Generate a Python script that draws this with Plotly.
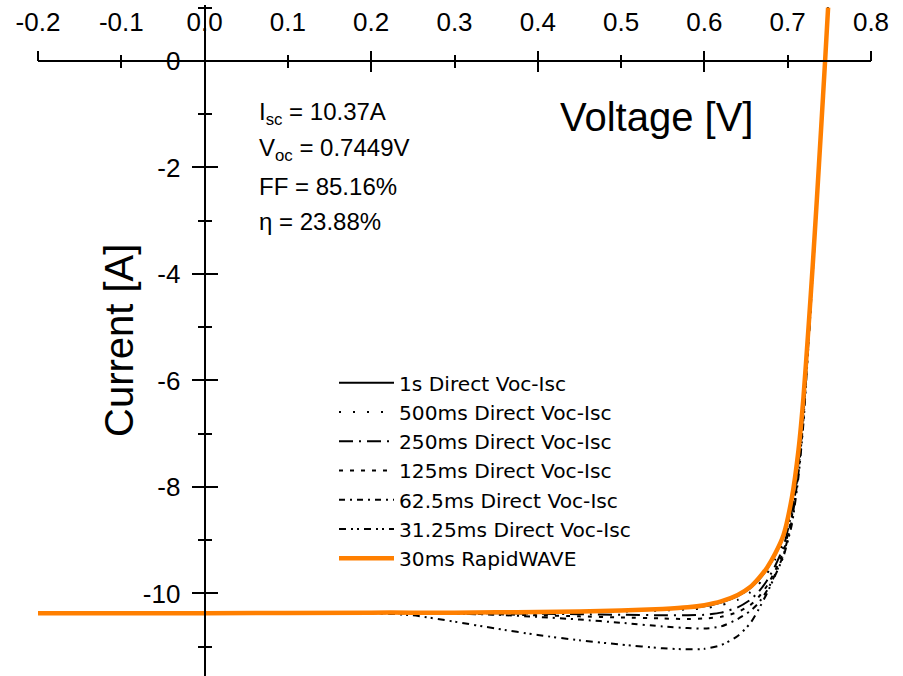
import plotly.graph_objects as go

# ---------------- data ----------------
V = [-0.2, 0.0, 0.2, 0.25, 0.3, 0.35, 0.4, 0.45, 0.5, 0.55, 0.58, 0.6, 0.62, 0.64,
     0.655, 0.665, 0.675, 0.685, 0.695, 0.705, 0.713, 0.719, 0.725, 0.73, 0.735,
     0.74, 0.7449, 0.7485]

I_1s = [-10.37, -10.37, -10.36, -10.36, -10.36, -10.36, -10.35, -10.34, -10.33, -10.30,
        -10.27, -10.24, -10.17, -10.05, -9.90, -9.75, -9.55, -9.28, -8.93, -8.25, -7.35,
        -6.35, -5.02, -3.86, -2.61, -1.31, 0.00, 1.00]
I_500ms = [-10.37, -10.37, -10.36, -10.36, -10.36, -10.36, -10.36, -10.35, -10.34, -10.32,
           -10.30, -10.28, -10.22, -10.12, -9.98, -9.83, -9.63, -9.36, -9.02, -8.35, -7.45,
           -6.45, -5.08, -3.90, -2.63, -1.32, 0.00, 1.00]
I_250ms = [-10.37, -10.37, -10.36, -10.36, -10.37, -10.37, -10.38, -10.39, -10.40, -10.41,
           -10.41, -10.40, -10.36, -10.26, -10.12, -9.97, -9.76, -9.48, -9.12, -8.45, -7.55,
           -6.55, -5.15, -3.95, -2.66, -1.33, 0.00, 1.00]
I_125ms = [-10.37, -10.37, -10.37, -10.37, -10.38, -10.39, -10.41, -10.43, -10.45, -10.47,
           -10.48, -10.47, -10.44, -10.35, -10.22, -10.07, -9.86, -9.57, -9.20, -8.55, -7.65,
           -6.62, -5.20, -3.98, -2.68, -1.34, 0.00, 1.00]
I_62_5ms = [-10.37, -10.37, -10.37, -10.37, -10.38, -10.40, -10.44, -10.49, -10.55, -10.62,
            -10.65, -10.66, -10.62, -10.48, -10.33, -10.18, -9.95, -9.64, -9.27, -8.62, -7.72,
            -6.70, -5.25, -4.00, -2.70, -1.35, 0.00, 1.00]
I_31_25ms = [-10.37, -10.37, -10.37, -10.41, -10.53, -10.66, -10.78, -10.88, -10.96, -11.03,
             -11.05, -11.04, -10.97, -10.80, -10.56, -10.30, -10.00, -9.66, -9.30, -8.70, -7.80,
             -6.78, -5.30, -4.03, -2.72, -1.36, 0.00, 1.00]
I_rapidwave = [-10.37, -10.37, -10.36, -10.36, -10.36, -10.355, -10.35, -10.34, -10.32, -10.29,
               -10.26, -10.22, -10.15, -10.03, -9.88, -9.72, -9.52, -9.25, -8.90, -8.20, -7.30,
               -6.30, -5.00, -3.85, -2.60, -1.30, 0.00, 1.00]

series_names = ["1s Direct Voc-Isc", "500ms Direct Voc-Isc", "250ms Direct Voc-Isc",
                "125ms Direct Voc-Isc", "62.5ms Direct Voc-Isc", "31.25ms Direct Voc-Isc"]
rapid_name = "30ms RapidWAVE"

x_tickvals = [-0.2, -0.1, 0.0, 0.1, 0.2, 0.3, 0.4, 0.5, 0.6, 0.7, 0.8]
x_ticktext = ["-0.2", "-0.1", "0.0", "0.1", "0.2", "0.3", "0.4", "0.5", "0.6", "0.7", "0.8"]
x_major = [-0.2, 0.0, 0.2, 0.4, 0.6, 0.8]
x_minor = [-0.1, 0.1, 0.3, 0.5, 0.7]
y_tickvals = [0, -2, -4, -6, -8, -10]
y_ticktext = ["0", "-2", "-4", "-6", "-8", "-10"]

stats_lines = ["I<sub>sc</sub> = 10.37A", "V<sub>oc</sub> = 0.7449V",
               "FF = 85.16%", "η = 23.88%"]

# ---------------- style ----------------
FONT = "Arial, Liberation Sans, sans-serif"
LEGEND_FONT = "DejaVu Sans, Arial, sans-serif"
XR = [-0.2, 0.8]
YR = [-11.55, 1.05]
W, H = 903, 676
ML, MR, MT, MB = 38, 32, 5, 0
PW, PH = W - ML - MR, H - MT - MB

def px_to_paper(px, py):
    return (px - ML) / PW, 1 - (py - MT) / PH

x_pos = (0 - YR[0]) / (YR[1] - YR[0])   # x axis at I = 0
y_pos = (0 - XR[0]) / (XR[1] - XR[0])   # y axis at V = 0

dashes = ["solid", "2px,12px", "14px,6px,2px,6px", "4px,7px",
          "6px,5px,2px,5px", "7px,5px,2px,4px,2px,5px"]
black_series = [I_1s, I_500ms, I_250ms, I_125ms, I_62_5ms, I_31_25ms]
# the last black series sits on the (x2, y2) overlay so its subplot draws the extra ticks
axes_for = [("x", "y")] * 5 + [("x2", "y2")]

fig = go.Figure()
for name, ys, d, (xa, ya) in zip(series_names, black_series, dashes, axes_for):
    fig.add_trace(go.Scatter(x=V, y=ys, mode="lines", name=name, xaxis=xa, yaxis=ya,
                             line=dict(color="black", width=2, dash=d, shape="spline",
                                       smoothing=0.6)))
fig.add_trace(go.Scatter(x=V, y=I_rapidwave, mode="lines", name=rapid_name,
                         xaxis="x3", yaxis="y2",
                         line=dict(color="#ff7f00", width=4.5, shape="spline",
                                   smoothing=0.6)))

common_x = dict(range=XR, anchor="free", position=x_pos, side="top",
                showgrid=False, zeroline=False, fixedrange=True)
common_y = dict(range=YR, anchor="free", position=y_pos, side="left",
                showgrid=False, zeroline=False, fixedrange=True)

fig.update_layout(
    width=W, height=H, autosize=False,
    margin=dict(l=ML, r=MR, t=MT, b=MB, pad=0),
    paper_bgcolor="white", plot_bgcolor="white",
    font=dict(family=FONT, color="black"),
    xaxis=dict(**common_x, showline=True, linewidth=2, linecolor="black",
               tickmode="array", tickvals=x_tickvals, ticktext=x_ticktext,
               ticks="", ticklabelstandoff=19,
               tickfont=dict(size=26, family=FONT, color="black")),
    xaxis2=dict(**common_x, overlaying="x", showline=False, showticklabels=False,
                tickmode="array", tickvals=x_major, ticks="outside", ticklen=10,
                tickwidth=2, tickcolor="black",
                minor=dict(tickmode="array", tickvals=x_minor, ticks="outside",
                           ticklen=6, tickwidth=2, tickcolor="black", showgrid=False)),
    xaxis3=dict(**common_x, overlaying="x", showline=False, showticklabels=False,
                tickmode="array", tickvals=x_major, ticks="inside", ticklen=10,
                tickwidth=2, tickcolor="black",
                minor=dict(tickmode="array", tickvals=x_minor, ticks="inside",
                           ticklen=6, tickwidth=2, tickcolor="black", showgrid=False)),
    yaxis=dict(**common_y, showline=True, linewidth=2, linecolor="black",
               tickmode="array", tickvals=y_tickvals, ticktext=y_ticktext,
               ticks="outside", ticklen=12, tickwidth=2, tickcolor="black",
               ticklabelstandoff=6,
               minor=dict(dtick=1, tick0=0, ticks="outside", ticklen=6, tickwidth=2,
                          tickcolor="black", showgrid=False),
               tickfont=dict(size=26, family=FONT, color="black")),
    yaxis2=dict(**common_y, overlaying="y", showline=False, showticklabels=False,
                tickmode="array", tickvals=y_tickvals, ticks="inside", ticklen=12,
                tickwidth=2, tickcolor="black",
                minor=dict(dtick=1, tick0=0, ticks="inside", ticklen=6, tickwidth=2,
                           tickcolor="black", showgrid=False)),
    showlegend=True,
    legend=dict(x=px_to_paper(334, 0)[0], y=px_to_paper(0, 363)[1],
                xanchor="left", yanchor="top", bgcolor="rgba(0,0,0,0)",
                borderwidth=0, itemwidth=55, tracegroupgap=0,
                font=dict(size=20.2, family=LEGEND_FONT, color="black")),
)

for i, t in enumerate(stats_lines):
    xp, yp = px_to_paper(257, [113, 149, 186, 221][i])
    fig.add_annotation(text=t, x=xp, y=yp, xref="paper", yref="paper",
                       xanchor="left", yanchor="middle", showarrow=False,
                       font=dict(size=24, family=FONT, color="black"))

xp, yp = px_to_paper(656, 117)
fig.add_annotation(text="Voltage [V]", x=xp, y=yp, xref="paper", yref="paper",
                   xanchor="center", yanchor="middle", showarrow=False,
                   font=dict(size=40, family=FONT, color="black"))
xp, yp = px_to_paper(119, 341)
fig.add_annotation(text="Current [A]", x=xp, y=yp, xref="paper", yref="paper",
                   xanchor="center", yanchor="middle", showarrow=False, textangle=-90,
                   font=dict(size=40, family=FONT, color="black"))

fig.write_html("out.html")
